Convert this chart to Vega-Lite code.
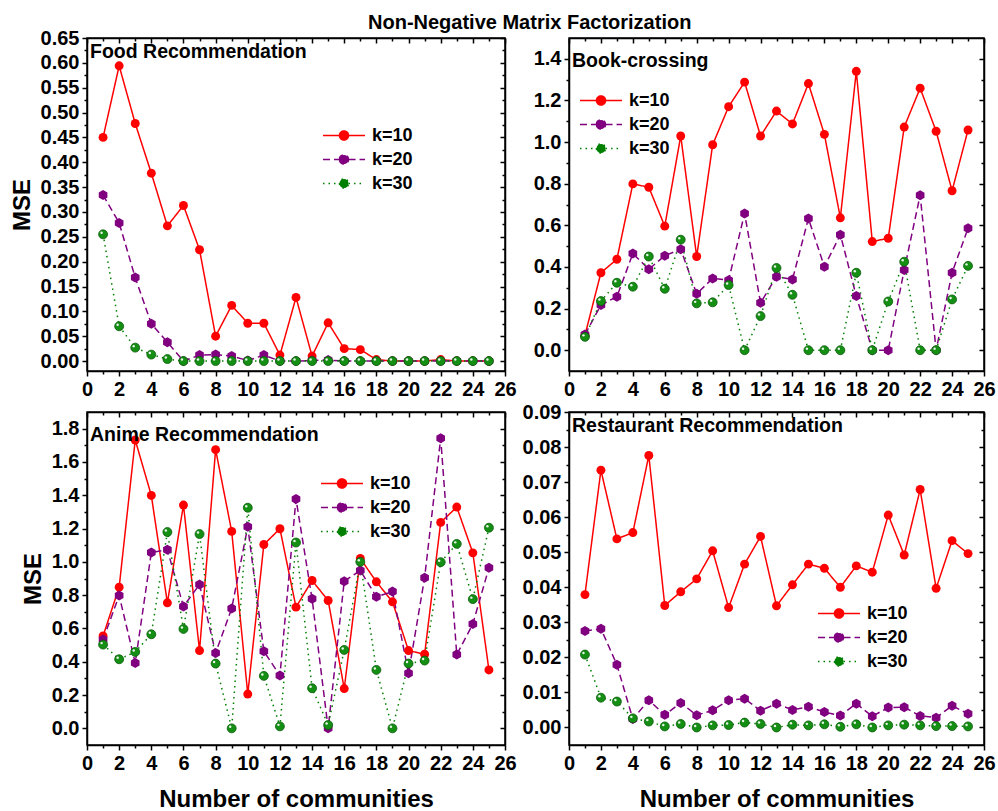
{
  "$schema": "https://vega.github.io/schema/vega-lite/v6.json",
  "padding": {"left": 9, "top": 12, "right": 6, "bottom": 2},
  "title": {"text": "Non-Negative Matrix Factorization", "font": "Liberation Sans", "fontSize": 20, "fontWeight": "bold", "color": "black", "anchor": "start", "frame": "group", "dx": 281, "offset": -5.5},
  "columns": 2,
  "spacing": {"row": 41, "column": 64},
  "bounds": "flush",
  "resolve": {"scale": {"stroke": "independent", "fill": "independent", "strokeDash": "independent"}},
  "datasets": {
    "food": [
      {"n":1,"k":"k=10","mse":0.450},{"n":2,"k":"k=10","mse":0.594},{"n":3,"k":"k=10","mse":0.478},{"n":4,"k":"k=10","mse":0.378},{"n":5,"k":"k=10","mse":0.272},
      {"n":6,"k":"k=10","mse":0.313},{"n":7,"k":"k=10","mse":0.224},{"n":8,"k":"k=10","mse":0.050},{"n":9,"k":"k=10","mse":0.112},{"n":10,"k":"k=10","mse":0.076},
      {"n":11,"k":"k=10","mse":0.076},{"n":12,"k":"k=10","mse":0.012},{"n":13,"k":"k=10","mse":0.128},{"n":14,"k":"k=10","mse":0.010},{"n":15,"k":"k=10","mse":0.077},
      {"n":16,"k":"k=10","mse":0.025},{"n":17,"k":"k=10","mse":0.023},{"n":18,"k":"k=10","mse":0.003},{"n":19,"k":"k=10","mse":0.000},{"n":20,"k":"k=10","mse":0.000},
      {"n":21,"k":"k=10","mse":0.000},{"n":22,"k":"k=10","mse":0.003},{"n":23,"k":"k=10","mse":0.000},{"n":24,"k":"k=10","mse":0.000},{"n":25,"k":"k=10","mse":0.000},
      {"n":1,"k":"k=20","mse":0.334},{"n":2,"k":"k=20","mse":0.278},{"n":3,"k":"k=20","mse":0.168},{"n":4,"k":"k=20","mse":0.075},{"n":5,"k":"k=20","mse":0.038},
      {"n":6,"k":"k=20","mse":0.000},{"n":7,"k":"k=20","mse":0.012},{"n":8,"k":"k=20","mse":0.013},{"n":9,"k":"k=20","mse":0.010},{"n":10,"k":"k=20","mse":0.001},
      {"n":11,"k":"k=20","mse":0.012},{"n":12,"k":"k=20","mse":0.000},{"n":13,"k":"k=20","mse":0.000},{"n":14,"k":"k=20","mse":0.001},{"n":15,"k":"k=20","mse":0.002},
      {"n":16,"k":"k=20","mse":0.000},{"n":17,"k":"k=20","mse":0.000},{"n":18,"k":"k=20","mse":0.000},{"n":19,"k":"k=20","mse":0.000},{"n":20,"k":"k=20","mse":0.000},
      {"n":21,"k":"k=20","mse":0.000},{"n":22,"k":"k=20","mse":0.000},{"n":23,"k":"k=20","mse":0.000},{"n":24,"k":"k=20","mse":0.000},{"n":25,"k":"k=20","mse":0.000},
      {"n":1,"k":"k=30","mse":0.255},{"n":2,"k":"k=30","mse":0.070},{"n":3,"k":"k=30","mse":0.027},{"n":4,"k":"k=30","mse":0.013},{"n":5,"k":"k=30","mse":0.004},
      {"n":6,"k":"k=30","mse":0.000},{"n":7,"k":"k=30","mse":0.000},{"n":8,"k":"k=30","mse":0.000},{"n":9,"k":"k=30","mse":0.000},{"n":10,"k":"k=30","mse":0.000},
      {"n":11,"k":"k=30","mse":0.000},{"n":12,"k":"k=30","mse":0.000},{"n":13,"k":"k=30","mse":0.000},{"n":14,"k":"k=30","mse":0.000},{"n":15,"k":"k=30","mse":0.000},
      {"n":16,"k":"k=30","mse":0.000},{"n":17,"k":"k=30","mse":0.000},{"n":18,"k":"k=30","mse":0.000},{"n":19,"k":"k=30","mse":0.000},{"n":20,"k":"k=30","mse":0.000},
      {"n":21,"k":"k=30","mse":0.000},{"n":22,"k":"k=30","mse":0.000},{"n":23,"k":"k=30","mse":0.000},{"n":24,"k":"k=30","mse":0.000},{"n":25,"k":"k=30","mse":0.000}
    ],
    "book": [
      {"n":1,"k":"k=10","mse":0.072},{"n":2,"k":"k=10","mse":0.372},{"n":3,"k":"k=10","mse":0.437},{"n":4,"k":"k=10","mse":0.799},{"n":5,"k":"k=10","mse":0.783},
      {"n":6,"k":"k=10","mse":0.596},{"n":7,"k":"k=10","mse":1.029},{"n":8,"k":"k=10","mse":0.450},{"n":9,"k":"k=10","mse":0.987},{"n":10,"k":"k=10","mse":1.170},
      {"n":11,"k":"k=10","mse":1.288},{"n":12,"k":"k=10","mse":1.029},{"n":13,"k":"k=10","mse":1.149},{"n":14,"k":"k=10","mse":1.087},{"n":15,"k":"k=10","mse":1.281},
      {"n":16,"k":"k=10","mse":1.037},{"n":17,"k":"k=10","mse":0.636},{"n":18,"k":"k=10","mse":1.340},{"n":19,"k":"k=10","mse":0.522},{"n":20,"k":"k=10","mse":0.538},
      {"n":21,"k":"k=10","mse":1.072},{"n":22,"k":"k=10","mse":1.259},{"n":23,"k":"k=10","mse":1.052},{"n":24,"k":"k=10","mse":0.766},{"n":25,"k":"k=10","mse":1.058},
      {"n":1,"k":"k=20","mse":0.075},{"n":2,"k":"k=20","mse":0.217},{"n":3,"k":"k=20","mse":0.257},{"n":4,"k":"k=20","mse":0.464},{"n":5,"k":"k=20","mse":0.389},
      {"n":6,"k":"k=20","mse":0.454},{"n":7,"k":"k=20","mse":0.485},{"n":8,"k":"k=20","mse":0.271},{"n":9,"k":"k=20","mse":0.345},{"n":10,"k":"k=20","mse":0.336},
      {"n":11,"k":"k=20","mse":0.657},{"n":12,"k":"k=20","mse":0.228},{"n":13,"k":"k=20","mse":0.353},{"n":14,"k":"k=20","mse":0.340},{"n":15,"k":"k=20","mse":0.633},
      {"n":16,"k":"k=20","mse":0.401},{"n":17,"k":"k=20","mse":0.555},{"n":18,"k":"k=20","mse":0.260},{"n":19,"k":"k=20","mse":0.000},{"n":20,"k":"k=20","mse":0.000},
      {"n":21,"k":"k=20","mse":0.385},{"n":22,"k":"k=20","mse":0.745},{"n":23,"k":"k=20","mse":0.000},{"n":24,"k":"k=20","mse":0.372},{"n":25,"k":"k=20","mse":0.586},
      {"n":1,"k":"k=30","mse":0.064},{"n":2,"k":"k=30","mse":0.236},{"n":3,"k":"k=30","mse":0.324},{"n":4,"k":"k=30","mse":0.305},{"n":5,"k":"k=30","mse":0.450},
      {"n":6,"k":"k=30","mse":0.295},{"n":7,"k":"k=30","mse":0.531},{"n":8,"k":"k=30","mse":0.225},{"n":9,"k":"k=30","mse":0.230},{"n":10,"k":"k=30","mse":0.313},
      {"n":11,"k":"k=30","mse":0.000},{"n":12,"k":"k=30","mse":0.164},{"n":13,"k":"k=30","mse":0.395},{"n":14,"k":"k=30","mse":0.266},{"n":15,"k":"k=30","mse":0.000},
      {"n":16,"k":"k=30","mse":0.000},{"n":17,"k":"k=30","mse":0.000},{"n":18,"k":"k=30","mse":0.372},{"n":19,"k":"k=30","mse":0.000},{"n":20,"k":"k=30","mse":0.234},
      {"n":21,"k":"k=30","mse":0.425},{"n":22,"k":"k=30","mse":0.000},{"n":23,"k":"k=30","mse":0.000},{"n":24,"k":"k=30","mse":0.244},{"n":25,"k":"k=30","mse":0.405}
    ],
    "anime": [
      {"n":1,"k":"k=10","mse":0.555},{"n":2,"k":"k=10","mse":0.848},{"n":3,"k":"k=10","mse":1.732},{"n":4,"k":"k=10","mse":1.399},{"n":5,"k":"k=10","mse":0.754},
      {"n":6,"k":"k=10","mse":1.341},{"n":7,"k":"k=10","mse":0.467},{"n":8,"k":"k=10","mse":1.674},{"n":9,"k":"k=10","mse":1.183},{"n":10,"k":"k=10","mse":0.206},
      {"n":11,"k":"k=10","mse":1.104},{"n":12,"k":"k=10","mse":1.199},{"n":13,"k":"k=10","mse":0.728},{"n":14,"k":"k=10","mse":0.888},{"n":15,"k":"k=10","mse":0.768},
      {"n":16,"k":"k=10","mse":0.239},{"n":17,"k":"k=10","mse":1.020},{"n":18,"k":"k=10","mse":0.880},{"n":19,"k":"k=10","mse":0.760},{"n":20,"k":"k=10","mse":0.467},
      {"n":21,"k":"k=10","mse":0.445},{"n":22,"k":"k=10","mse":1.237},{"n":23,"k":"k=10","mse":1.329},{"n":24,"k":"k=10","mse":1.054},{"n":25,"k":"k=10","mse":0.351},
      {"n":1,"k":"k=20","mse":0.533},{"n":2,"k":"k=20","mse":0.798},{"n":3,"k":"k=20","mse":0.393},{"n":4,"k":"k=20","mse":1.056},{"n":5,"k":"k=20","mse":1.072},
      {"n":6,"k":"k=20","mse":0.732},{"n":7,"k":"k=20","mse":0.864},{"n":8,"k":"k=20","mse":0.453},{"n":9,"k":"k=20","mse":0.720},{"n":10,"k":"k=20","mse":1.211},
      {"n":11,"k":"k=20","mse":0.463},{"n":12,"k":"k=20","mse":0.317},{"n":13,"k":"k=20","mse":1.377},{"n":14,"k":"k=20","mse":0.778},{"n":15,"k":"k=20","mse":0.000},
      {"n":16,"k":"k=20","mse":0.884},{"n":17,"k":"k=20","mse":0.948},{"n":18,"k":"k=20","mse":0.790},{"n":19,"k":"k=20","mse":0.822},{"n":20,"k":"k=20","mse":0.331},
      {"n":21,"k":"k=20","mse":0.904},{"n":22,"k":"k=20","mse":1.742},{"n":23,"k":"k=20","mse":0.443},{"n":24,"k":"k=20","mse":0.627},{"n":25,"k":"k=20","mse":0.964},
      {"n":1,"k":"k=30","mse":0.503},{"n":2,"k":"k=30","mse":0.415},{"n":3,"k":"k=30","mse":0.459},{"n":4,"k":"k=30","mse":0.565},{"n":5,"k":"k=30","mse":1.179},
      {"n":6,"k":"k=30","mse":0.597},{"n":7,"k":"k=30","mse":1.167},{"n":8,"k":"k=30","mse":0.389},{"n":9,"k":"k=30","mse":0.000},{"n":10,"k":"k=30","mse":1.325},
      {"n":11,"k":"k=30","mse":0.315},{"n":12,"k":"k=30","mse":0.012},{"n":13,"k":"k=30","mse":1.116},{"n":14,"k":"k=30","mse":0.241},{"n":15,"k":"k=30","mse":0.020},
      {"n":16,"k":"k=30","mse":0.471},{"n":17,"k":"k=30","mse":1.000},{"n":18,"k":"k=30","mse":0.351},{"n":19,"k":"k=30","mse":0.000},{"n":20,"k":"k=30","mse":0.389},
      {"n":21,"k":"k=30","mse":0.407},{"n":22,"k":"k=30","mse":0.998},{"n":23,"k":"k=30","mse":1.108},{"n":24,"k":"k=30","mse":0.776},{"n":25,"k":"k=30","mse":1.205}
    ],
    "restaurant": [
      {"n":1,"k":"k=10","mse":0.0379},{"n":2,"k":"k=10","mse":0.0734},{"n":3,"k":"k=10","mse":0.0538},{"n":4,"k":"k=10","mse":0.0556},{"n":5,"k":"k=10","mse":0.0776},
      {"n":6,"k":"k=10","mse":0.0348},{"n":7,"k":"k=10","mse":0.0387},{"n":8,"k":"k=10","mse":0.0424},{"n":9,"k":"k=10","mse":0.0504},{"n":10,"k":"k=10","mse":0.0342},
      {"n":11,"k":"k=10","mse":0.0466},{"n":12,"k":"k=10","mse":0.0545},{"n":13,"k":"k=10","mse":0.0347},{"n":14,"k":"k=10","mse":0.0407},{"n":15,"k":"k=10","mse":0.0466},
      {"n":16,"k":"k=10","mse":0.0454},{"n":17,"k":"k=10","mse":0.0400},{"n":18,"k":"k=10","mse":0.0461},{"n":19,"k":"k=10","mse":0.0443},{"n":20,"k":"k=10","mse":0.0606},
      {"n":21,"k":"k=10","mse":0.0492},{"n":22,"k":"k=10","mse":0.0679},{"n":23,"k":"k=10","mse":0.0397},{"n":24,"k":"k=10","mse":0.0533},{"n":25,"k":"k=10","mse":0.0496},
      {"n":1,"k":"k=20","mse":0.0275},{"n":2,"k":"k=20","mse":0.0282},{"n":3,"k":"k=20","mse":0.0179},{"n":4,"k":"k=20","mse":0.0024},{"n":5,"k":"k=20","mse":0.0078},
      {"n":6,"k":"k=20","mse":0.0036},{"n":7,"k":"k=20","mse":0.0070},{"n":8,"k":"k=20","mse":0.0035},{"n":9,"k":"k=20","mse":0.0049},{"n":10,"k":"k=20","mse":0.0078},
      {"n":11,"k":"k=20","mse":0.0082},{"n":12,"k":"k=20","mse":0.0048},{"n":13,"k":"k=20","mse":0.0068},{"n":14,"k":"k=20","mse":0.0050},{"n":15,"k":"k=20","mse":0.0059},
      {"n":16,"k":"k=20","mse":0.0044},{"n":17,"k":"k=20","mse":0.0034},{"n":18,"k":"k=20","mse":0.0068},{"n":19,"k":"k=20","mse":0.0032},{"n":20,"k":"k=20","mse":0.0057},
      {"n":21,"k":"k=20","mse":0.0058},{"n":22,"k":"k=20","mse":0.0033},{"n":23,"k":"k=20","mse":0.0028},{"n":24,"k":"k=20","mse":0.0062},{"n":25,"k":"k=20","mse":0.0039},
      {"n":1,"k":"k=30","mse":0.0208},{"n":2,"k":"k=30","mse":0.0085},{"n":3,"k":"k=30","mse":0.0074},{"n":4,"k":"k=30","mse":0.0026},{"n":5,"k":"k=30","mse":0.0017},
      {"n":6,"k":"k=30","mse":0.0003},{"n":7,"k":"k=30","mse":0.0010},{"n":8,"k":"k=30","mse":0.0000},{"n":9,"k":"k=30","mse":0.0006},{"n":10,"k":"k=30","mse":0.0007},
      {"n":11,"k":"k=30","mse":0.0014},{"n":12,"k":"k=30","mse":0.0010},{"n":13,"k":"k=30","mse":0.0000},{"n":14,"k":"k=30","mse":0.0008},{"n":15,"k":"k=30","mse":0.0006},
      {"n":16,"k":"k=30","mse":0.0009},{"n":17,"k":"k=30","mse":0.0002},{"n":18,"k":"k=30","mse":0.0009},{"n":19,"k":"k=30","mse":0.0000},{"n":20,"k":"k=30","mse":0.0006},
      {"n":21,"k":"k=30","mse":0.0008},{"n":22,"k":"k=30","mse":0.0006},{"n":23,"k":"k=30","mse":0.0004},{"n":24,"k":"k=30","mse":0.0004},{"n":25,"k":"k=30","mse":0.0003}
    ]
  },
  "concat": [
    {
      "width": 418, "height": 333,
      "data": {"name": "food"},
      "title": {"text": "Food Recommendation", "anchor": "start", "frame": "group", "orient": "top", "offset": -49, "dx": 3, "baseline": "alphabetic", "font": "Liberation Sans", "fontSize": 19.5, "fontWeight": "bold", "color": "black"},
      "resolve": {"axis": {"x": "independent", "y": "independent"}},
      "layer": [
        {
          "mark": {"type": "line", "strokeWidth": 1.5},
          "encoding": {
            "x": {"field": "n", "type": "quantitative", "scale": {"domain": [0, 26], "nice": false, "zero": false}, "axis": {"orient": "bottom", "values": [0,2,4,6,8,10,12,14,16,18,20,22,24,26], "tickSize": 5, "title": null}},
            "y": {"field": "mse", "type": "quantitative", "scale": {"domain": [-0.02, 0.65], "nice": false, "zero": false}, "axis": {"orient": "left", "values": [0,0.05,0.1,0.15,0.2,0.25,0.3,0.35,0.4,0.45,0.5,0.55,0.6,0.65], "format": ".2f", "tickSize": 5, "title": "MSE", "titlePadding": 6}},
            "stroke": {"field": "k", "type": "nominal", "scale": {"domain": ["k=10", "k=20", "k=30"], "range": ["#ff0000", "#800080", "#008000"]}, "legend": {"orient": "none", "legendX": 248, "legendY": 88.5, "title": null}},
            "strokeDash": {"field": "k", "type": "nominal", "scale": {"domain": ["k=10", "k=20", "k=30"], "range": [[1, 0], [7, 4], [1.5, 4]]}, "legend": {"orient": "none", "legendX": 248, "legendY": 88.5, "title": null}}
          }
        },
        {
          "transform": [{"filter": "datum.k === 'k=10'"}],
          "mark": {"type": "point", "shape": "circle", "filled": true, "size": 80, "opacity": 1, "strokeWidth": 0},
          "encoding": {
            "x": {"field": "n", "type": "quantitative", "scale": {"domain": [0, 26], "nice": false, "zero": false}, "axis": {"orient": "bottom", "values": [1,3,5,7,9,11,13,15,17,19,21,23,25], "tickSize": 3, "labels": false, "domain": false, "title": null}},
            "y": {"field": "mse", "type": "quantitative", "scale": {"domain": [-0.02, 0.65], "nice": false, "zero": false}, "axis": {"orient": "left", "values": [0.025,0.075,0.125,0.175,0.225,0.275,0.325,0.375,0.425,0.475,0.525,0.575,0.625], "tickSize": 3, "labels": false, "domain": false, "title": null}},
            "fill": {"field": "k", "type": "nominal", "scale": {"domain": ["k=10", "k=20", "k=30"], "range": ["#ff0000", "#800080", "#008000"]}, "legend": {"orient": "none", "legendX": 248, "legendY": 88.5, "title": null}}
          }
        },
        {
          "transform": [{"filter": "datum.k === 'k=20'"}],
          "mark": {"type": "point", "shape": "M0,-1L0.866,-0.5L0.866,0.5L0,1L-0.866,0.5L-0.866,-0.5Z", "filled": true, "size": 100, "color": "#800080", "opacity": 1, "strokeWidth": 0},
          "encoding": {
            "x": {"field": "n", "type": "quantitative", "scale": {"domain": [0, 26], "nice": false, "zero": false}, "axis": {"orient": "top", "values": [0,2,4,6,8,10,12,14,16,18,20,22,24,26], "tickSize": -5, "labels": false, "title": null}},
            "y": {"field": "mse", "type": "quantitative", "scale": {"domain": [-0.02, 0.65], "nice": false, "zero": false}, "axis": {"orient": "right", "values": [0,0.05,0.1,0.15,0.2,0.25,0.3,0.35,0.4,0.45,0.5,0.55,0.6,0.65], "tickSize": -5, "labels": false, "title": null}}
          }
        },
        {
          "transform": [{"filter": "datum.k === 'k=30'"}],
          "mark": {"type": "point", "shape": "circle", "filled": true, "size": 80, "opacity": 1, "fill": "#148f14", "stroke": "#0a5c0a", "strokeWidth": 0.8},
          "encoding": {
            "x": {"field": "n", "type": "quantitative", "scale": {"domain": [0, 26], "nice": false, "zero": false}, "axis": {"orient": "top", "values": [1,3,5,7,9,11,13,15,17,19,21,23,25], "tickSize": -3, "labels": false, "domain": false, "title": null}},
            "y": {"field": "mse", "type": "quantitative", "scale": {"domain": [-0.02, 0.65], "nice": false, "zero": false}, "axis": {"orient": "right", "values": [0.025,0.075,0.125,0.175,0.225,0.275,0.325,0.375,0.425,0.475,0.525,0.575,0.625], "tickSize": -3, "labels": false, "domain": false, "title": null}}
          }
        },
        {
          "transform": [{"filter": "datum.k === 'k=30'"}],
          "mark": {"type": "point", "shape": "circle", "filled": true, "size": 6, "opacity": 0.9, "color": "white", "strokeWidth": 0, "xOffset": -1.5, "yOffset": -1.5},
          "encoding": {
            "x": {"field": "n", "type": "quantitative", "axis": null},
            "y": {"field": "mse", "type": "quantitative", "axis": null}
          }
        }
      ]
    },
    {
      "width": 415, "height": 333,
      "data": {"name": "book"},
      "title": {"text": "Book-crossing", "anchor": "start", "frame": "group", "orient": "top", "offset": -49, "dx": 3, "baseline": "alphabetic", "font": "Liberation Sans", "fontSize": 19.5, "fontWeight": "bold", "color": "black"},
      "resolve": {"axis": {"x": "independent", "y": "independent"}},
      "layer": [
        {
          "mark": {"type": "line", "strokeWidth": 1.5},
          "encoding": {
            "x": {"field": "n", "type": "quantitative", "scale": {"domain": [0, 26], "nice": false, "zero": false}, "axis": {"orient": "bottom", "values": [0,2,4,6,8,10,12,14,16,18,20,22,24,26], "tickSize": 5, "title": null}},
            "y": {"field": "mse", "type": "quantitative", "scale": {"domain": [-0.1, 1.5], "nice": false, "zero": false}, "axis": {"orient": "left", "values": [0,0.2,0.4,0.6,0.8,1.0,1.2,1.4], "format": ".1f", "tickSize": 5, "title": null}},
            "stroke": {"field": "k", "type": "nominal", "scale": {"domain": ["k=10", "k=20", "k=30"], "range": ["#ff0000", "#800080", "#008000"]}, "legend": {"orient": "none", "legendX": 23, "legendY": 53.5, "title": null}},
            "strokeDash": {"field": "k", "type": "nominal", "scale": {"domain": ["k=10", "k=20", "k=30"], "range": [[1, 0], [7, 4], [1.5, 4]]}, "legend": {"orient": "none", "legendX": 23, "legendY": 53.5, "title": null}}
          }
        },
        {
          "transform": [{"filter": "datum.k === 'k=10'"}],
          "mark": {"type": "point", "shape": "circle", "filled": true, "size": 80, "opacity": 1, "strokeWidth": 0},
          "encoding": {
            "x": {"field": "n", "type": "quantitative", "scale": {"domain": [0, 26], "nice": false, "zero": false}, "axis": {"orient": "bottom", "values": [1,3,5,7,9,11,13,15,17,19,21,23,25], "tickSize": 3, "labels": false, "domain": false, "title": null}},
            "y": {"field": "mse", "type": "quantitative", "scale": {"domain": [-0.1, 1.5], "nice": false, "zero": false}, "axis": {"orient": "left", "values": [0.1,0.3,0.5,0.7,0.9,1.1,1.3], "tickSize": 3, "labels": false, "domain": false, "title": null}},
            "fill": {"field": "k", "type": "nominal", "scale": {"domain": ["k=10", "k=20", "k=30"], "range": ["#ff0000", "#800080", "#008000"]}, "legend": {"orient": "none", "legendX": 23, "legendY": 53.5, "title": null}}
          }
        },
        {
          "transform": [{"filter": "datum.k === 'k=20'"}],
          "mark": {"type": "point", "shape": "M0,-1L0.866,-0.5L0.866,0.5L0,1L-0.866,0.5L-0.866,-0.5Z", "filled": true, "size": 100, "color": "#800080", "opacity": 1, "strokeWidth": 0},
          "encoding": {
            "x": {"field": "n", "type": "quantitative", "scale": {"domain": [0, 26], "nice": false, "zero": false}, "axis": {"orient": "top", "values": [0,2,4,6,8,10,12,14,16,18,20,22,24,26], "tickSize": -5, "labels": false, "title": null}},
            "y": {"field": "mse", "type": "quantitative", "scale": {"domain": [-0.1, 1.5], "nice": false, "zero": false}, "axis": {"orient": "right", "values": [0,0.2,0.4,0.6,0.8,1.0,1.2,1.4], "tickSize": -5, "labels": false, "title": null}}
          }
        },
        {
          "transform": [{"filter": "datum.k === 'k=30'"}],
          "mark": {"type": "point", "shape": "circle", "filled": true, "size": 80, "opacity": 1, "fill": "#148f14", "stroke": "#0a5c0a", "strokeWidth": 0.8},
          "encoding": {
            "x": {"field": "n", "type": "quantitative", "scale": {"domain": [0, 26], "nice": false, "zero": false}, "axis": {"orient": "top", "values": [1,3,5,7,9,11,13,15,17,19,21,23,25], "tickSize": -3, "labels": false, "domain": false, "title": null}},
            "y": {"field": "mse", "type": "quantitative", "scale": {"domain": [-0.1, 1.5], "nice": false, "zero": false}, "axis": {"orient": "right", "values": [0.1,0.3,0.5,0.7,0.9,1.1,1.3], "tickSize": -3, "labels": false, "domain": false, "title": null}}
          }
        },
        {
          "transform": [{"filter": "datum.k === 'k=30'"}],
          "mark": {"type": "point", "shape": "circle", "filled": true, "size": 6, "opacity": 0.9, "color": "white", "strokeWidth": 0, "xOffset": -1.5, "yOffset": -1.5},
          "encoding": {
            "x": {"field": "n", "type": "quantitative", "axis": null},
            "y": {"field": "mse", "type": "quantitative", "axis": null}
          }
        }
      ]
    },
    {
      "width": 418, "height": 333,
      "data": {"name": "anime"},
      "title": {"text": "Anime Recommendation", "anchor": "start", "frame": "group", "orient": "top", "offset": -49, "dx": 3, "baseline": "alphabetic", "font": "Liberation Sans", "fontSize": 19.5, "fontWeight": "bold", "color": "black"},
      "resolve": {"axis": {"x": "independent", "y": "independent"}},
      "layer": [
        {
          "mark": {"type": "line", "strokeWidth": 1.5},
          "encoding": {
            "x": {"field": "n", "type": "quantitative", "scale": {"domain": [0, 26], "nice": false, "zero": false}, "axis": {"orient": "bottom", "values": [0,2,4,6,8,10,12,14,16,18,20,22,24,26], "tickSize": 5, "title": "Number of communities", "titlePadding": 14}},
            "y": {"field": "mse", "type": "quantitative", "scale": {"domain": [-0.1, 1.9], "nice": false, "zero": false}, "axis": {"orient": "left", "values": [0,0.2,0.4,0.6,0.8,1.0,1.2,1.4,1.6,1.8], "format": ".1f", "tickSize": 5, "title": "MSE", "titlePadding": 6}},
            "stroke": {"field": "k", "type": "nominal", "scale": {"domain": ["k=10", "k=20", "k=30"], "range": ["#ff0000", "#800080", "#008000"]}, "legend": {"orient": "none", "legendX": 246, "legendY": 62.5, "title": null}},
            "strokeDash": {"field": "k", "type": "nominal", "scale": {"domain": ["k=10", "k=20", "k=30"], "range": [[1, 0], [7, 4], [1.5, 4]]}, "legend": {"orient": "none", "legendX": 246, "legendY": 62.5, "title": null}}
          }
        },
        {
          "transform": [{"filter": "datum.k === 'k=10'"}],
          "mark": {"type": "point", "shape": "circle", "filled": true, "size": 80, "opacity": 1, "strokeWidth": 0},
          "encoding": {
            "x": {"field": "n", "type": "quantitative", "scale": {"domain": [0, 26], "nice": false, "zero": false}, "axis": {"orient": "bottom", "values": [1,3,5,7,9,11,13,15,17,19,21,23,25], "tickSize": 3, "labels": false, "domain": false, "title": null}},
            "y": {"field": "mse", "type": "quantitative", "scale": {"domain": [-0.1, 1.9], "nice": false, "zero": false}, "axis": {"orient": "left", "values": [0.1,0.3,0.5,0.7,0.9,1.1,1.3,1.5,1.7], "tickSize": 3, "labels": false, "domain": false, "title": null}},
            "fill": {"field": "k", "type": "nominal", "scale": {"domain": ["k=10", "k=20", "k=30"], "range": ["#ff0000", "#800080", "#008000"]}, "legend": {"orient": "none", "legendX": 246, "legendY": 62.5, "title": null}}
          }
        },
        {
          "transform": [{"filter": "datum.k === 'k=20'"}],
          "mark": {"type": "point", "shape": "M0,-1L0.866,-0.5L0.866,0.5L0,1L-0.866,0.5L-0.866,-0.5Z", "filled": true, "size": 100, "color": "#800080", "opacity": 1, "strokeWidth": 0},
          "encoding": {
            "x": {"field": "n", "type": "quantitative", "scale": {"domain": [0, 26], "nice": false, "zero": false}, "axis": {"orient": "top", "values": [0,2,4,6,8,10,12,14,16,18,20,22,24,26], "tickSize": -5, "labels": false, "title": null}},
            "y": {"field": "mse", "type": "quantitative", "scale": {"domain": [-0.1, 1.9], "nice": false, "zero": false}, "axis": {"orient": "right", "values": [0,0.2,0.4,0.6,0.8,1.0,1.2,1.4,1.6,1.8], "tickSize": -5, "labels": false, "title": null}}
          }
        },
        {
          "transform": [{"filter": "datum.k === 'k=30'"}],
          "mark": {"type": "point", "shape": "circle", "filled": true, "size": 80, "opacity": 1, "fill": "#148f14", "stroke": "#0a5c0a", "strokeWidth": 0.8},
          "encoding": {
            "x": {"field": "n", "type": "quantitative", "scale": {"domain": [0, 26], "nice": false, "zero": false}, "axis": {"orient": "top", "values": [1,3,5,7,9,11,13,15,17,19,21,23,25], "tickSize": -3, "labels": false, "domain": false, "title": null}},
            "y": {"field": "mse", "type": "quantitative", "scale": {"domain": [-0.1, 1.9], "nice": false, "zero": false}, "axis": {"orient": "right", "values": [0.1,0.3,0.5,0.7,0.9,1.1,1.3,1.5,1.7], "tickSize": -3, "labels": false, "domain": false, "title": null}}
          }
        },
        {
          "transform": [{"filter": "datum.k === 'k=30'"}],
          "mark": {"type": "point", "shape": "circle", "filled": true, "size": 6, "opacity": 0.9, "color": "white", "strokeWidth": 0, "xOffset": -1.5, "yOffset": -1.5},
          "encoding": {
            "x": {"field": "n", "type": "quantitative", "axis": null},
            "y": {"field": "mse", "type": "quantitative", "axis": null}
          }
        }
      ]
    },
    {
      "width": 415, "height": 333,
      "data": {"name": "restaurant"},
      "title": {"text": "Restaurant Recommendation", "anchor": "start", "frame": "group", "orient": "top", "offset": -49, "dx": 3, "baseline": "alphabetic", "font": "Liberation Sans", "fontSize": 19.5, "fontWeight": "bold", "color": "black"},
      "resolve": {"axis": {"x": "independent", "y": "independent"}},
      "layer": [
        {
          "mark": {"type": "line", "strokeWidth": 1.5},
          "encoding": {
            "x": {"field": "n", "type": "quantitative", "scale": {"domain": [0, 26], "nice": false, "zero": false}, "axis": {"orient": "bottom", "values": [0,2,4,6,8,10,12,14,16,18,20,22,24,26], "tickSize": 5, "title": "Number of communities", "titlePadding": 14}},
            "y": {"field": "mse", "type": "quantitative", "scale": {"domain": [-0.005, 0.09], "nice": false, "zero": false}, "axis": {"orient": "left", "values": [0,0.01,0.02,0.03,0.04,0.05,0.06,0.07,0.08,0.09], "format": ".2f", "tickSize": 5, "title": null}},
            "stroke": {"field": "k", "type": "nominal", "scale": {"domain": ["k=10", "k=20", "k=30"], "range": ["#ff0000", "#800080", "#008000"]}, "legend": {"orient": "none", "legendX": 261, "legendY": 192.5, "title": null}},
            "strokeDash": {"field": "k", "type": "nominal", "scale": {"domain": ["k=10", "k=20", "k=30"], "range": [[1, 0], [7, 4], [1.5, 4]]}, "legend": {"orient": "none", "legendX": 261, "legendY": 192.5, "title": null}}
          }
        },
        {
          "transform": [{"filter": "datum.k === 'k=10'"}],
          "mark": {"type": "point", "shape": "circle", "filled": true, "size": 80, "opacity": 1, "strokeWidth": 0},
          "encoding": {
            "x": {"field": "n", "type": "quantitative", "scale": {"domain": [0, 26], "nice": false, "zero": false}, "axis": {"orient": "bottom", "values": [1,3,5,7,9,11,13,15,17,19,21,23,25], "tickSize": 3, "labels": false, "domain": false, "title": null}},
            "y": {"field": "mse", "type": "quantitative", "scale": {"domain": [-0.005, 0.09], "nice": false, "zero": false}, "axis": {"orient": "left", "values": [0.005,0.015,0.025,0.035,0.045,0.055,0.065,0.075,0.085], "tickSize": 3, "labels": false, "domain": false, "title": null}},
            "fill": {"field": "k", "type": "nominal", "scale": {"domain": ["k=10", "k=20", "k=30"], "range": ["#ff0000", "#800080", "#008000"]}, "legend": {"orient": "none", "legendX": 261, "legendY": 192.5, "title": null}}
          }
        },
        {
          "transform": [{"filter": "datum.k === 'k=20'"}],
          "mark": {"type": "point", "shape": "M0,-1L0.866,-0.5L0.866,0.5L0,1L-0.866,0.5L-0.866,-0.5Z", "filled": true, "size": 100, "color": "#800080", "opacity": 1, "strokeWidth": 0},
          "encoding": {
            "x": {"field": "n", "type": "quantitative", "scale": {"domain": [0, 26], "nice": false, "zero": false}, "axis": {"orient": "top", "values": [0,2,4,6,8,10,12,14,16,18,20,22,24,26], "tickSize": -5, "labels": false, "title": null}},
            "y": {"field": "mse", "type": "quantitative", "scale": {"domain": [-0.005, 0.09], "nice": false, "zero": false}, "axis": {"orient": "right", "values": [0,0.01,0.02,0.03,0.04,0.05,0.06,0.07,0.08,0.09], "tickSize": -5, "labels": false, "title": null}}
          }
        },
        {
          "transform": [{"filter": "datum.k === 'k=30'"}],
          "mark": {"type": "point", "shape": "circle", "filled": true, "size": 80, "opacity": 1, "fill": "#148f14", "stroke": "#0a5c0a", "strokeWidth": 0.8},
          "encoding": {
            "x": {"field": "n", "type": "quantitative", "scale": {"domain": [0, 26], "nice": false, "zero": false}, "axis": {"orient": "top", "values": [1,3,5,7,9,11,13,15,17,19,21,23,25], "tickSize": -3, "labels": false, "domain": false, "title": null}},
            "y": {"field": "mse", "type": "quantitative", "scale": {"domain": [-0.005, 0.09], "nice": false, "zero": false}, "axis": {"orient": "right", "values": [0.005,0.015,0.025,0.035,0.045,0.055,0.065,0.075,0.085], "tickSize": -3, "labels": false, "domain": false, "title": null}}
          }
        },
        {
          "transform": [{"filter": "datum.k === 'k=30'"}],
          "mark": {"type": "point", "shape": "circle", "filled": true, "size": 6, "opacity": 0.9, "color": "white", "strokeWidth": 0, "xOffset": -1.5, "yOffset": -1.5},
          "encoding": {
            "x": {"field": "n", "type": "quantitative", "axis": null},
            "y": {"field": "mse", "type": "quantitative", "axis": null}
          }
        }
      ]
    }
  ],
  "config": {
    "view": {"stroke": "black", "strokeWidth": 1.5},
    "axis": {
      "grid": false,
      "domainColor": "black", "domainWidth": 1.5,
      "tickColor": "black", "tickWidth": 1.5,
      "labelFont": "Liberation Sans", "labelFontSize": 20, "labelFontWeight": "bold", "labelColor": "black", "labelPadding": 3,
      "labelFlush": false, "labelOverlap": false,
      "titleFont": "Liberation Sans", "titleFontSize": 24, "titleFontWeight": "bold", "titleColor": "black"
    },
    "legend": {
      "labelFont": "Liberation Sans", "labelFontSize": 18, "labelFontWeight": "bold", "labelColor": "black",
      "symbolType": "M-3,0H-0.65M0.65,0H3M-0.65,0A0.65,0.65,0,1,0,0.65,0A0.65,0.65,0,1,0,-0.65,0Z",
      "symbolSize": 196, "symbolStrokeWidth": 1.5, "symbolOpacity": 1,
      "labelOffset": 19, "rowPadding": 6, "padding": 0
    }
  }
}
